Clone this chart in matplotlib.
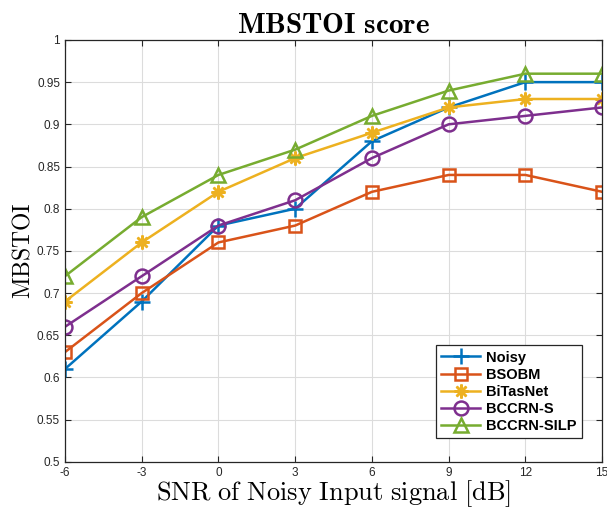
import matplotlib
matplotlib.use("Agg")
import matplotlib.pyplot as plt

plt.rcParams["mathtext.fontset"] = "cm"
plt.rcParams["font.family"] = ["Liberation Sans", "DejaVu Sans"]

snr = [-6, -3, 0, 3, 6, 9, 12, 15]
noisy = [0.61, 0.69, 0.78, 0.80, 0.88, 0.92, 0.95, 0.95]
bsobm = [0.63, 0.70, 0.76, 0.78, 0.82, 0.84, 0.84, 0.82]
bitasnet = [0.69, 0.76, 0.82, 0.86, 0.89, 0.92, 0.93, 0.93]
bccrn_s = [0.66, 0.72, 0.78, 0.81, 0.86, 0.90, 0.91, 0.92]
bccrn_silp = [0.72, 0.79, 0.84, 0.87, 0.91, 0.94, 0.96, 0.96]

names = ["Noisy", "BSOBM", "BiTasNet", "BCCRN-S", "BCCRN-SILP"]
series = [noisy, bsobm, bitasnet, bccrn_s, bccrn_silp]
colors = ["#0072BD", "#D95319", "#EDB120", "#7E2F8E", "#77AC30"]
markers = ["+", "s", (8, 2, 0), "o", "^"]  # (8,2,0) = matlab-like asterisk
msizes = [11, 8, 10, 10, 10]

fig = plt.figure(figsize=(6.07, 5.12), dpi=100)
ax = fig.add_axes([0.107, 0.098, 0.885, 0.824])

for ys, name, c, m, ms in zip(series, names, colors, markers, msizes):
    ax.plot(snr, ys, color=c, marker=m, markersize=ms, linewidth=1.8,
            markerfacecolor="none", markeredgewidth=1.8, label=name)

ax.set_xlim(-6, 15)
ax.set_ylim(0.5, 1.0)
ax.set_xticks(snr)
ax.set_xticklabels([str(v) for v in snr])
yt = [0.5, 0.55, 0.6, 0.65, 0.7, 0.75, 0.8, 0.85, 0.9, 0.95, 1.0]
ax.set_yticks(yt)
ax.set_yticklabels(["0.5", "0.55", "0.6", "0.65", "0.7", "0.75", "0.8", "0.85", "0.9", "0.95", "1"])
ax.tick_params(direction="in", top=True, right=True, labelsize=8.5, colors="#262626", length=4)
ax.grid(True, color="#dcdcdc", linewidth=0.8)
for s in ax.spines.values():
    s.set_color("#262626")
    s.set_linewidth(0.9)

ax.set_title(r"$\mathbf{MBSTOI\ score}$", fontsize=21, pad=5)
ax.set_xlabel(r"$\mathrm{SNR\ of\ Noisy\ Input\ signal\ [dB]}$", fontsize=19, labelpad=0)
ax.set_ylabel(r"$\mathrm{MBSTOI}$", fontsize=17, labelpad=2)

leg = ax.legend(loc="lower right", bbox_to_anchor=(0.97, 0.045), fancybox=False,
                framealpha=1, edgecolor="#262626", prop={"weight": "bold", "size": 10.5},
                handlelength=2.7, borderpad=0.35, labelspacing=0.22, handletextpad=0.4,
                borderaxespad=0.3)
leg.get_frame().set_linewidth(0.9)

fig.savefig("out.png", dpi=100)
